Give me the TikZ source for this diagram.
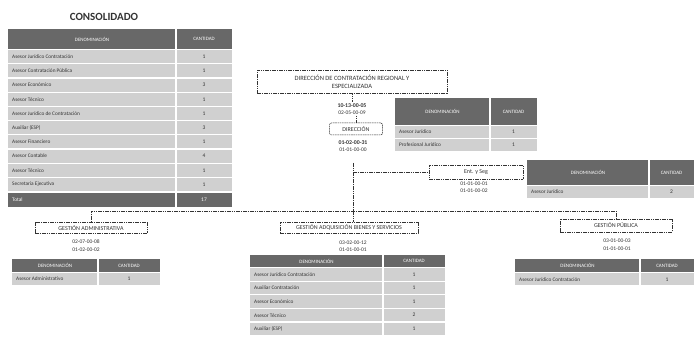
\documentclass[tikz,border=0pt]{standalone}
\usepackage{fontspec}
\setmainfont{Carlito}
\definecolor{hdr}{HTML}{686868}
\definecolor{rowc}{HTML}{D0D0D0}
\definecolor{ink}{HTML}{333333}
\tikzset{
  conn/.style={draw=ink, line width=0.5pt, dash pattern=on 1.6pt off 0.7pt},
  unitbox/.style={draw=ink, line width=0.5pt, dash pattern=on 1.6pt off 0.7pt, fill=white,
    inner sep=0pt, font=\fontsize{6}{7.5}\selectfont, text=ink, align=center},
  codetxt/.style={font=\fontsize{5.5}{6}\selectfont, inner sep=0.5pt, text=ink},
  hdrtxt/.style={font=\fontsize{5}{6}\selectfont, text=white, inner sep=0pt},
  rowtxt/.style={font=\fontsize{5.3}{6}\selectfont, text=ink, inner sep=0pt, anchor=west},
  valtxt/.style={font=\fontsize{5.5}{6}\selectfont, text=ink, inner sep=0pt},
}
% #1 name, #2 x1, #3 xd, #4 x2, #5 y1, #6 header height, #7 row height, #8 rows
\newcommand\orgtab[8]{%
  \fill[hdr] (#2,#5) rectangle (#3-0.6,#5+#6);
  \fill[hdr] (#3+0.6,#5) rectangle (#4,#5+#6);
  \node[hdrtxt] (#1-h1) at ({(#2+#3)/2},{#5+#6/2}) {DENOMINACIÓN};
  \node[hdrtxt] (#1-h2) at ({(#3+#4)/2},{#5+#6/2}) {CANTIDAD};
  \foreach \rtext/\rval [count=\i] in {#8} {
    \pgfmathsetmacro\yt{#5+#6+1.2+(\i-1)*#7}
    \pgfmathsetmacro\yb{\yt+#7-1.2}
    \fill[rowc] (#2,\yt) rectangle (#3-0.6,\yb);
    \fill[rowc] (#3+0.6,\yt) rectangle (#4,\yb);
    \node[rowtxt] (#1-r\i) at (#2+4,{(\yt+\yb)/2}) {\rtext};
    \node[valtxt] (#1-v\i) at ({(#3+#4)/2},{(\yt+\yb)/2}) {\rval};
  }%
}
\begin{document}
\begin{tikzpicture}[x=1pt,y=-1pt]
\useasboundingbox (0,0) rectangle (694,339);
\fill[white] (0,0) rectangle (694,339);

% ---- consolidated table
\node[font=\fontsize{11}{12}\selectfont\bfseries, text=ink, inner sep=0pt] (title) at (104,17) {CONSOLIDADO};
\orgtab{cons}{8}{176}{232}{29}{20}{14.2}{Asesor Jurídico Contratación/1,Asesor Contratación Pública/1,Asesor Económico/3,Asesor Técnico/1,Asesor Jurídico de Contratación/1,Auxiliar (ESP)/3,Asesor Financiero/1,Asesor Contable/4,Asesor Técnico/1,Secretaria Ejecutiva/1}
\fill[hdr] (8,193.2) rectangle (175.4,207);
\fill[hdr] (176.6,193.2) rectangle (232,207);
\node[rowtxt, text=white] (cons-tot) at (12,200) {Total};
\node[valtxt, text=white] (cons-totv) at (204,200) {17};

% ---- hierarchy
\node[unitbox, minimum width=190pt, minimum height=23pt, font=\fontsize{6.5}{8}\selectfont] (top) at (352,81.5)
  {DIRECCIÓN DE CONTRATACIÓN REGIONAL Y\\ESPECIALIZADA};
\node[codetxt, font=\fontsize{5.8}{6}\selectfont\bfseries] (c1a) at (352,106) {10-13-00-05};
\node[codetxt] (c1b) at (352,113) {02-05-00-09};
\node[unitbox, rounded corners=2pt, minimum width=53pt, minimum height=12pt] (dir) at (356,129) {DIRECCIÓN};
\node[codetxt, font=\fontsize{5.8}{6}\selectfont\bfseries] (c2a) at (353,143) {01-02-00-31};
\node[codetxt] (c2b) at (353,150) {01-01-00-00};
\coordinate (vtop) at (353,163);
\coordinate (bus) at (353,211);

\node[unitbox, minimum width=94pt, minimum height=14pt] (ent) at (476,172) {Ent. y Seg};
\node[codetxt] (c3a) at (474,184) {01-01-00-01};
\node[codetxt] (c3b) at (474,191) {01-01-00-02};

\node[unitbox, minimum width=112pt, minimum height=11pt] (adm) at (91,228) {GESTIÓN ADMINISTRATIVA};
\node[codetxt] (c4a) at (86,242) {02-07-00-08};
\node[codetxt] (c4b) at (86,250) {01-02-00-02};

\node[unitbox, minimum width=138pt, minimum height=11pt] (adq) at (349,227.5) {GESTIÓN ADQUISICIÓN BIENES Y SERVICIOS};
\node[codetxt] (c5a) at (353,243) {03-02-00-12};
\node[codetxt] (c5b) at (353,250) {01-01-00-01};

\node[unitbox, minimum width=112pt, minimum height=13pt] (pub) at (616,225.5) {GESTIÓN PÚBLICA};
\node[codetxt] (c6a) at (617,241) {03-01-00-03};
\node[codetxt] (c6b) at (617,249) {01-01-00-01};

% connectors
\draw[conn, shorten >=1pt] (top.south) -- (c1a.north);
\draw[conn] (c1b.south -| dir.north) -- (dir.north);
\draw[conn] (vtop) -- (bus);
\draw[conn] (vtop |- ent.west) -- (ent.west);
\draw[conn] (adm.north) |- (bus) -| (pub.north);
\draw[conn] (bus) -- (bus |- adq.north);

% ---- unit tables
\orgtab{dirt}{395}{490}{537}{98}{27}{13}{Asesor Jurídico/1,Profesional Jurídico/1}
\orgtab{entt}{527}{649}{694}{160}{25}{13}{Asesor Jurídico/2}
\orgtab{admt}{12}{98}{160}{259}{13}{13}{Asesor Administrativo/1}
\orgtab{adqt}{250}{383}{445}{255}{12}{13.6}{Asesor Jurídico Contratación/1,Auxiliar Contratación/1,Asesor Económico/1,Asesor Técnico/2,Auxiliar (ESP)/1}
\orgtab{pubt}{515}{640}{694}{259}{13}{13.5}{Asesor Jurídico Contratación/1}
\end{tikzpicture}
\end{document}
